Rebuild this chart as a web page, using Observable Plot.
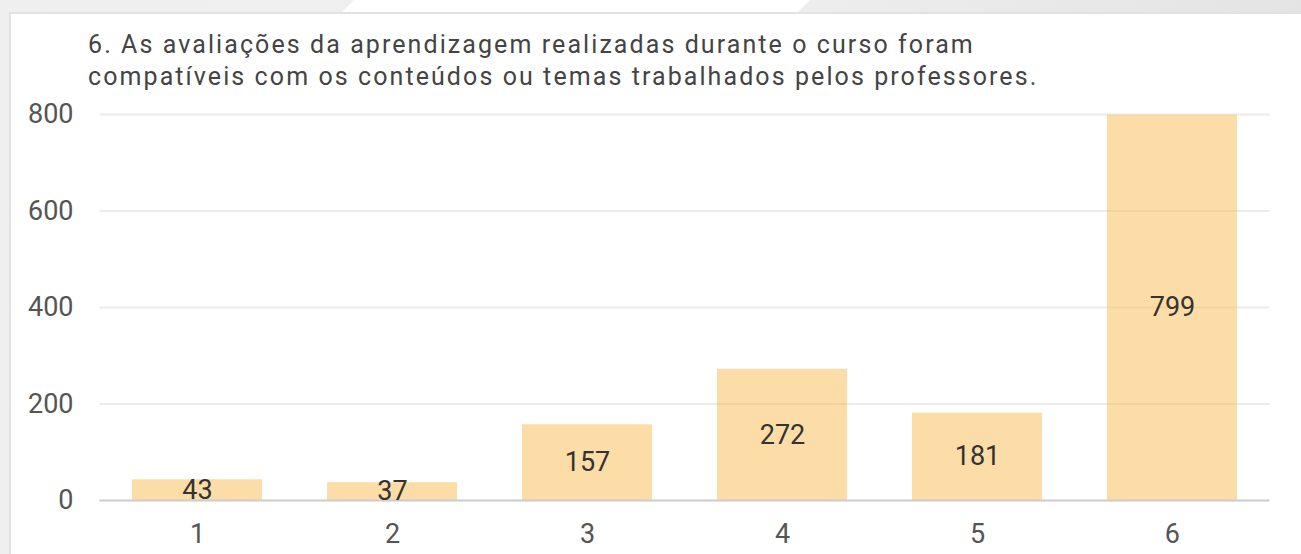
<!DOCTYPE html>
<html>
<head>
<meta charset="utf-8">
<script src="https://cdn.jsdelivr.net/npm/d3@7"></script>
<script src="https://cdn.jsdelivr.net/npm/@observablehq/plot@0.6"></script>
<style>
  html, body { margin: 0; padding: 0; width: 1301px; height: 554px; overflow: hidden; }
  body { background: linear-gradient(90deg, #efefef 0%, #f0f0f0 50%, #e4e4e4 100%); position: relative; font-family: Roboto, sans-serif; }
  #shine { position: absolute; left: 340px; top: 0; width: 470px; height: 14px; background: #fff; clip-path: polygon(3% 0, 100% 0, 97% 100%, 0 100%); }
  #card { position: absolute; left: 9px; top: 12px; right: 0; bottom: 0; background: #fff; border-left: 2px solid #e2e2e2; border-top: 2px solid #e2e2e2; }
  #title { position: absolute; left: 88px; top: 28.5px; font-size: 25px; line-height: 32px; letter-spacing: 2.08px; color: #444; white-space: nowrap; }
  #chart { position: absolute; left: 0; top: 100px; }
</style>
</head>
<body>
<div id="shine"></div>
<div id="card"></div>
<div id="title">6. As avaliações da aprendizagem realizadas durante o curso foram<br>compatíveis com os conteúdos ou temas trabalhados pelos professores.</div>
<div id="chart"></div>
<script>
const categories = ["1", "2", "3", "4", "5", "6"];
const counts = [43, 37, 157, 272, 181, 799];
const yTicks = [0, 200, 400, 600, 800];

const data = categories.map((c, i) => ({cat: c, value: counts[i]}));

const chart = Plot.plot({
  width: 1301,
  height: 454,
  marginLeft: 99.5,
  marginRight: 31.5,
  marginTop: 14,
  marginBottom: 54,
  style: {fontFamily: "Roboto, sans-serif", fontSize: "27px", background: "transparent", overflow: "visible"},
  x: {domain: categories, paddingInner: 0.333, paddingOuter: 0.1667, round: false, label: null},
  y: {domain: [0, 800], ticks: yTicks, label: null},
  marks: [
    Plot.ruleY(yTicks.filter(d => d > 0), {stroke: "#ebebeb", strokeWidth: 2}),
    Plot.barY(data, {x: "cat", y: "value", fill: "#fbbb50", fillOpacity: 0.5}),
    Plot.ruleY([0], {stroke: "#cccccc", strokeWidth: 2}),
    Plot.text(data, {x: "cat", y: d => d.value / 2, text: d => String(d.value), fill: "#333", fontSize: 27}),
    Plot.axisY({ticks: yTicks, tickSize: 0, tickPadding: 26.5, label: null, color: "#555", fontSize: 27}),
    Plot.axisX({tickSize: 0, tickPadding: 23, label: null, color: "#555", fontSize: 27})
  ]
});
document.getElementById("chart").appendChild(chart);
</script>
</body>
</html>
